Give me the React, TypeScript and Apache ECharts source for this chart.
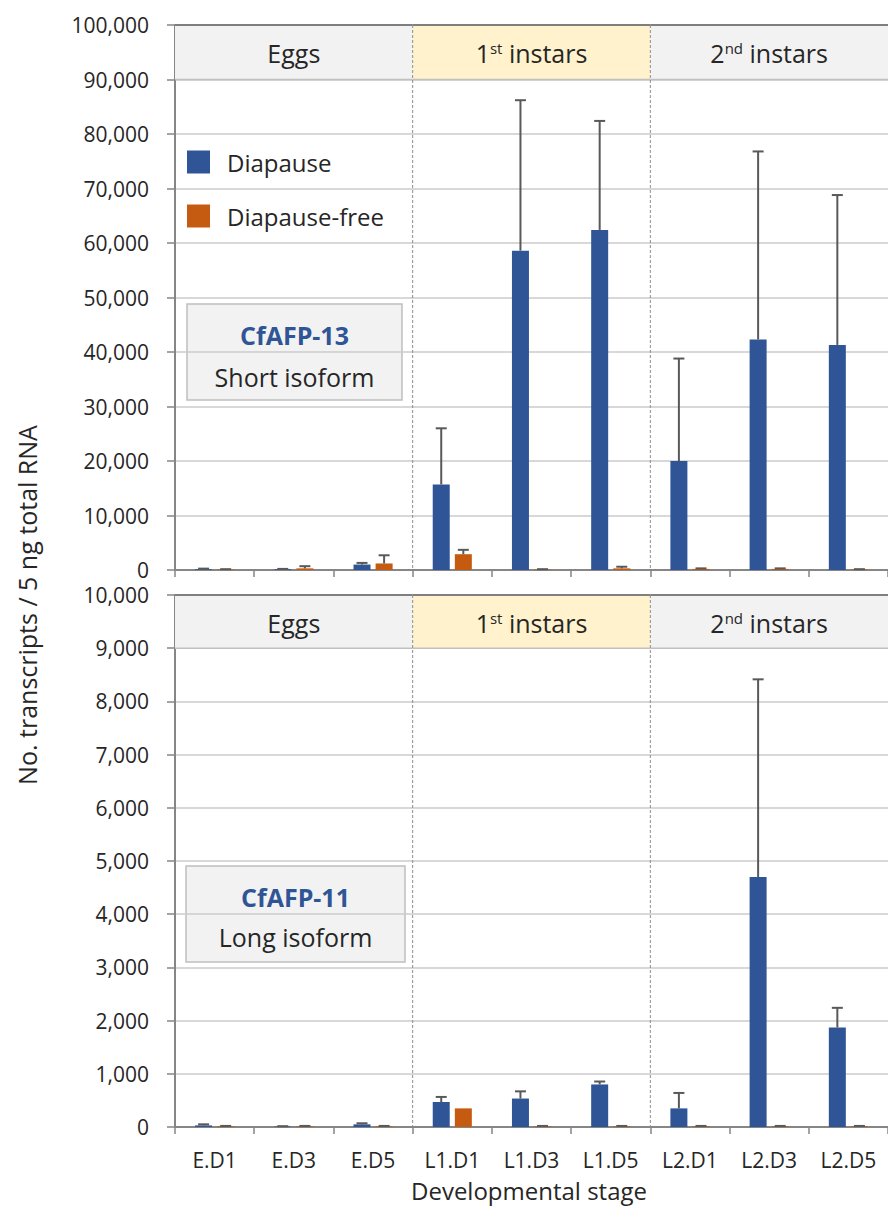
import React, { useEffect, useRef } from 'react';
import * as echarts from 'echarts';

const categories = ['E.D1', 'E.D3', 'E.D5', 'L1.D1', 'L1.D3', 'L1.D5', 'L2.D1', 'L2.D3', 'L2.D5'];
const seriesNames = ['Diapause', 'Diapause-free'];

// CfAFP-13 short isoform
const shortDiapause = [150, 150, 1000, 15700, 58600, 62400, 20000, 42300, 41300];
const shortDiapauseSD = [100, 50, 300, 10300, 27600, 20000, 18800, 34500, 27500];
const shortFree = [100, 300, 1200, 2900, 100, 300, 200, 200, 100];
const shortFreeSD = [50, 400, 1500, 800, 50, 300, 100, 100, 50];

// CfAFP-11 long isoform
const longDiapause = [30, 10, 50, 470, 535, 800, 350, 4700, 1870];
const longDiapauseSD = [20, 5, 20, 95, 135, 55, 290, 3715, 370];
const longFree = [15, 15, 15, 350, 15, 15, 15, 15, 15];
const longFreeSD = [5, 5, 5, 0, 5, 5, 5, 5, 5];

const stageLabels = ['Eggs', '1st instars', '2nd instars'];
const stageStart = [0, 3, 6];
const stageEnd = [3, 6, 9];
const stageColors = ['#f2f2f2', '#fff2cc', '#f2f2f2'];

const topAxisMax = 100000;
const topAxisStep = 10000;
const bottomAxisMax = 10000;
const bottomAxisStep = 1000;

const FONT = 'Open Sans';
const BLUE = '#2f5597';
const ORANGE = '#c55a11';
const BAR_W = 17;
const BAR_GAP = 0.3;

function richLabel(s: string) {
  const m = s.match(/^(\d)(st|nd|rd|th)(.*)$/);
  if (!m) return '{t|' + s + '}';
  return '{t|' + m[1] + '}{s|' + m[2] + '}{t|' + m[3] + '}';
}

function bandSeries(xAxisIndex: number, yAxisIndex: number, hi: number, lo: number) {
  return {
    type: 'custom',
    xAxisIndex,
    yAxisIndex,
    z: 1,
    silent: true,
    data: stageLabels.map((_, i) => [stageStart[i], stageEnd[i], lo, hi]),
    renderItem: (params: any, api: any) => {
      const i = params.dataIndex;
      const s = api.value(0), e = api.value(1), l = api.value(2), h = api.value(3);
      const p1 = api.coord([s, h]);
      const p2 = api.coord([e, l]);
      const p0 = api.coord([s, 0]);
      const children: any[] = [
        {
          type: 'rect',
          shape: { x: p1[0], y: p1[1], width: p2[0] - p1[0], height: p2[1] - p1[1] },
          style: { fill: stageColors[i] },
        },
        {
          type: 'line',
          shape: { x1: p1[0], y1: p2[1], x2: p2[0], y2: p2[1] },
          style: { stroke: '#c0c0c0', lineWidth: 1.5 },
        },
        {
          type: 'line',
          shape: { x1: p1[0], y1: p1[1], x2: p2[0], y2: p1[1] },
          style: { stroke: '#7f7f7f', lineWidth: 2 },
        },
        {
          type: 'text',
          x: (p1[0] + p2[0]) / 2,
          y: (p1[1] + p2[1]) / 2 + 1,
          style: {
            text: richLabel(stageLabels[i]),
            align: 'center',
            verticalAlign: 'middle',
            rich: {
              t: { fontSize: 25, fontFamily: FONT, fill: '#262626', color: '#262626' },
              s: { fontSize: 15, fontFamily: FONT, fill: '#262626', color: '#262626', verticalAlign: 'top' },
            },
          },
        },
      ];
      if (s > 0) {
        children.push({
          type: 'line',
          shape: { x1: p1[0], y1: p1[1], x2: p1[0], y2: p0[1] },
          style: { stroke: '#8c8c8c', lineWidth: 1, lineDash: [3, 2] },
        });
      }
      return { type: 'group', children };
    },
  };
}

function errorSeries(name: string, xAxisIndex: number, yAxisIndex: number, mean: number[], sd: number[], dir: number) {
  const offset = dir * (BAR_W + BAR_W * BAR_GAP) / 2;
  return {
    type: 'custom',
    name: name + ' SD',
    xAxisIndex,
    yAxisIndex,
    z: 5,
    silent: true,
    data: categories.map((_, i) => [i, mean[i], sd[i]]),
    renderItem: (params: any, api: any) => {
      const x = api.value(0), m = api.value(1), d = api.value(2);
      if (!d) return { type: 'group', children: [] };
      const b = api.coord([x, m]);
      const t = api.coord([x, m + d]);
      const cx = b[0] + offset;
      return {
        type: 'group',
        children: [
          { type: 'line', shape: { x1: cx, y1: b[1], x2: cx, y2: t[1] }, style: { stroke: '#595959', lineWidth: 2 } },
          { type: 'line', shape: { x1: cx - 5.5, y1: t[1], x2: cx + 5.5, y2: t[1] }, style: { stroke: '#595959', lineWidth: 2 } },
        ],
      };
    },
  };
}

function barSeries(name: string, xAxisIndex: number, yAxisIndex: number, data: number[], color: string) {
  return {
    type: 'bar',
    name,
    xAxisIndex,
    yAxisIndex,
    data,
    barWidth: BAR_W,
    barGap: BAR_GAP * 100 + '%',
    z: 3,
    itemStyle: { color },
  };
}

const fmt = (v: number) => v.toLocaleString('en-US');

export default function App() {
  const ref = useRef<HTMLDivElement>(null);
  useEffect(() => {
    if (!ref.current) return;
    const chart = echarts.init(ref.current, null, { renderer: 'svg' });
    const axisLine = { show: true, lineStyle: { color: '#868686', width: 2 } };
    const yCommon = {
      type: 'value',
      axisLine,
      axisTick: { show: true, length: 8, lineStyle: { color: '#868686', width: 1.5 } },
      splitLine: { show: true, lineStyle: { color: '#cbcbcb', width: 1.5 } },
      axisLabel: { fontSize: 21, lineHeight: 18, fontFamily: FONT, color: '#262626', margin: 26, formatter: fmt },
    };
    const xCat = {
      type: 'category',
      data: categories,
      axisLine,
      axisTick: { show: true, length: 7, lineStyle: { color: '#868686', width: 1.5 } },
    };
    const xVal = { type: 'value', min: 0, max: 9, show: false };
    const option: any = {
      animation: false,
      backgroundColor: '#ffffff',
      textStyle: { fontFamily: FONT },
      grid: [
        { left: 175, top: 25, width: 723, height: 545 },
        { left: 175, top: 595, width: 723, height: 532 },
      ],
      xAxis: [
        { ...xCat, gridIndex: 0, axisLabel: { show: false } },
        { ...xCat, gridIndex: 1, axisLabel: { fontSize: 21, fontFamily: FONT, color: '#262626', margin: 22 } },
        { ...xVal, gridIndex: 0 },
        { ...xVal, gridIndex: 1 },
      ],
      yAxis: [
        { ...yCommon, gridIndex: 0, min: 0, max: topAxisMax, interval: topAxisStep },
        { ...yCommon, gridIndex: 1, min: 0, max: bottomAxisMax, interval: bottomAxisStep },
      ],
      legend: {
        data: seriesNames,
        orient: 'vertical',
        left: 187,
        top: 150,
        padding: 0,
        itemWidth: 23,
        itemHeight: 23,
        itemGap: 30,
        icon: 'rect',
        selectedMode: false,
        textStyle: { fontSize: 24, fontFamily: FONT, color: '#262626', padding: [0, 0, 0, 12] },
      },
      series: [
        bandSeries(2, 0, topAxisMax, topAxisMax - topAxisStep),
        bandSeries(3, 1, bottomAxisMax, bottomAxisMax - bottomAxisStep),
        barSeries(seriesNames[0], 0, 0, shortDiapause, BLUE),
        barSeries(seriesNames[1], 0, 0, shortFree, ORANGE),
        barSeries(seriesNames[0], 1, 1, longDiapause, BLUE),
        barSeries(seriesNames[1], 1, 1, longFree, ORANGE),
        errorSeries(seriesNames[0], 0, 0, shortDiapause, shortDiapauseSD, -1),
        errorSeries(seriesNames[1], 0, 0, shortFree, shortFreeSD, 1),
        errorSeries(seriesNames[0], 1, 1, longDiapause, longDiapauseSD, -1),
        errorSeries(seriesNames[1], 1, 1, longFree, longFreeSD, 1),
      ],
      graphic: [
        {
          type: 'text',
          x: 27,
          y: 605,
          rotation: Math.PI / 2,
          style: {
            text: 'No. transcripts / 5 ng total RNA',
            fontSize: 25,
            fontFamily: FONT,
            fill: '#262626',
            align: 'center',
            verticalAlign: 'middle',
          },
        },
        {
          type: 'text',
          x: 529,
          y: 1190,
          style: {
            text: 'Developmental stage',
            fontSize: 24,
            fontFamily: FONT,
            fill: '#262626',
            align: 'center',
            verticalAlign: 'middle',
          },
        },
        {
          type: 'group',
          children: [
            { type: 'rect', shape: { x: 187, y: 304, width: 215, height: 96 }, style: { fill: '#f2f2f2', stroke: '#bfbfbf', lineWidth: 1.5 } },
            { type: 'text', x: 294.5, y: 335, style: { text: 'CfAFP-13', fontSize: 25, fontWeight: 'bold', fontFamily: FONT, fill: BLUE, align: 'center', verticalAlign: 'middle' } },
            { type: 'text', x: 294.5, y: 377, style: { text: 'Short isoform', fontSize: 25, fontFamily: FONT, fill: '#262626', align: 'center', verticalAlign: 'middle' } },
          ],
        },
        {
          type: 'group',
          children: [
            { type: 'rect', shape: { x: 186, y: 866, width: 219, height: 96 }, style: { fill: '#f2f2f2', stroke: '#bfbfbf', lineWidth: 1.5 } },
            { type: 'text', x: 295.5, y: 897, style: { text: 'CfAFP-11', fontSize: 25, fontWeight: 'bold', fontFamily: FONT, fill: BLUE, align: 'center', verticalAlign: 'middle' } },
            { type: 'text', x: 295.5, y: 937, style: { text: 'Long isoform', fontSize: 25, fontFamily: FONT, fill: '#262626', align: 'center', verticalAlign: 'middle' } },
          ],
        },
      ],
    };
    chart.setOption(option);
    return () => chart.dispose();
  }, []);
  return <div ref={ref} style={{ position: 'fixed', left: 0, top: 0, width: 888, height: 1208, background: '#fff' }} />;
}
